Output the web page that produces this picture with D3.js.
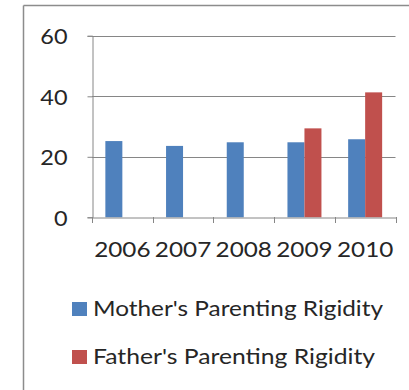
<!DOCTYPE html>
<html>
<head>
<meta charset="utf-8">
<script src="https://cdn.jsdelivr.net/npm/d3@7"></script>
<style>
  html, body { margin: 0; padding: 0; background: #fff; }
  svg { display: block; }
  text { font-family: Lato, "Open Sans", sans-serif; fill: #262626; }
</style>
</head>
<body>
<svg id="chart" width="409" height="390"></svg>
<script>
// Parenting rigidity scores by year
const years = ["2006", "2007", "2008", "2009", "2010"];
const seriesNames = ["Mother's Parenting Rigidity", "Father's Parenting Rigidity"];
const motherValues = [25.2, 23.6, 24.8, 24.8, 25.8];
const fatherValues = [null, null, null, 29.4, 41.3];
const seriesColors = ["#4F81BD", "#C0504D"];
const yTicks = [0, 20, 40, 60];

const svg = d3.select("#chart");
const W = 409, H = 390;
const plot = { left: 92, right: 395.5, top: 35.8, bottom: 217.3 };
const digitWidth = 13.6; // per-digit advance of the label font

// frame edges of the chart area
svg.append("line").attr("x1", 23.5).attr("x2", W).attr("y1", 5.5).attr("y2", 5.5)
  .attr("stroke", "#8c8c8c").attr("stroke-width", 1.5);
svg.append("line").attr("x1", 23.5).attr("x2", 23.5).attr("y1", 5.5).attr("y2", H)
  .attr("stroke", "#8c8c8c").attr("stroke-width", 1.5);

const x0 = d3.scaleBand().domain(years).range([plot.left, plot.right]).padding(0);
const x1 = d3.scaleBand().domain(seriesNames)
  .range([x0.bandwidth() * 0.22, x0.bandwidth() * 0.78]).padding(0);
const y = d3.scaleLinear().domain([0, 60]).range([plot.bottom, plot.top]);

// horizontal gridlines
svg.append("g").selectAll("line").data(yTicks.filter(d => d > 0)).join("line")
  .attr("x1", plot.left).attr("x2", plot.right)
  .attr("y1", d => Math.round(y(d)) + 0.5).attr("y2", d => Math.round(y(d)) + 0.5)
  .attr("stroke", "#868686").attr("stroke-width", 1);

// y axis
const yAxis = svg.append("g").attr("transform", `translate(${plot.left + 0.5},0)`)
  .call(d3.axisLeft(y).tickValues(yTicks).tickSize(5).tickPadding(20).tickFormat(d3.format("d")));
yAxis.select(".domain").attr("stroke", "#868686");
yAxis.selectAll(".tick line").attr("stroke", "#868686");
yAxis.selectAll(".tick text").attr("font-size", 22).attr("font-family", "Lato, sans-serif")
  .attr("fill", "#262626").attr("dy", "0.36em")
  .attr("textLength", d => String(d).length * digitWidth).attr("lengthAdjust", "spacingAndGlyphs");

// bars
const series = [motherValues, fatherValues];
const groups = svg.append("g").selectAll("g").data(years).join("g")
  .attr("transform", d => `translate(${x0(d)},0)`);
groups.selectAll("rect")
  .data((d, i) => seriesNames.map((s, k) => ({ s, k, v: series[k][i] })).filter(e => e.v != null))
  .join("rect")
  .attr("x", e => x1(e.s))
  .attr("width", x1.bandwidth())
  .attr("y", e => y(e.v))
  .attr("height", e => y(0) - y(e.v))
  .attr("fill", e => seriesColors[e.k]);

// x axis
const xAxis = svg.append("g").attr("transform", `translate(0,${Math.round(plot.bottom) + 0.5})`)
  .call(d3.axisBottom(x0).tickSize(0).tickPadding(24));
xAxis.select(".domain").attr("stroke", "#868686");
xAxis.selectAll(".tick text").attr("font-size", 22).attr("font-family", "Lato, sans-serif")
  .attr("fill", "#262626")
  .attr("textLength", d => d.length * digitWidth + 2).attr("lengthAdjust", "spacingAndGlyphs");
// category boundary ticks
svg.append("g").selectAll("line").data(d3.range(years.length + 1)).join("line")
  .attr("x1", i => Math.round(plot.left + i * x0.step()) + 0.5)
  .attr("x2", i => Math.round(plot.left + i * x0.step()) + 0.5)
  .attr("y1", Math.round(plot.bottom)).attr("y2", Math.round(plot.bottom) + 6)
  .attr("stroke", "#868686");

// legend
const legendWidths = [290, 282];
const legend = svg.append("g").selectAll("g").data(seriesNames).join("g")
  .attr("transform", (d, i) => `translate(72,${302 + i * 48})`);
legend.append("rect").attr("width", 15).attr("height", 14)
  .attr("fill", (d, i) => seriesColors[i]);
legend.append("text").attr("x", 21).attr("y", 14)
  .attr("font-size", 22).text(d => d)
  .attr("textLength", (d, i) => legendWidths[i]).attr("lengthAdjust", "spacingAndGlyphs");
</script>
</body>
</html>
